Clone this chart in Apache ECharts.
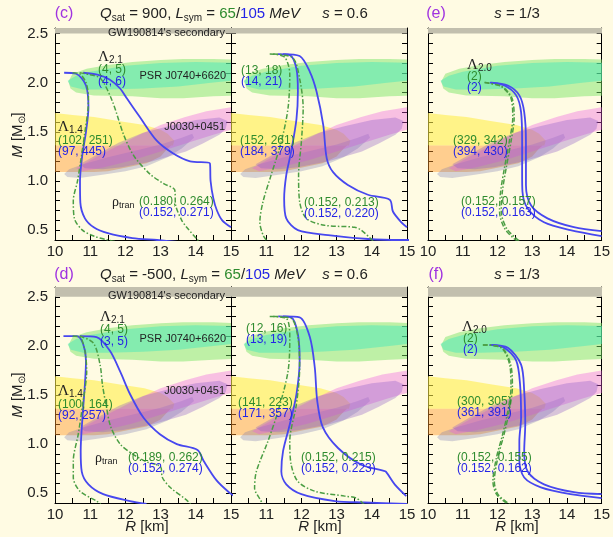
<!DOCTYPE html>
<html><head><meta charset="utf-8">
<script src="https://cdn.jsdelivr.net/npm/echarts@6/dist/echarts.min.js"></script>
<style>html,body{margin:0;padding:0;background:#fffbe3}#c{width:613px;height:537px}</style>
</head><body><div id="c"></div><script>
// ---------- tick labels ----------
const xTickLabels = [10, 11, 12, 13, 14, 15];
const yTickLabels = [0.5, 1.0, 1.5, 2.0, 2.5];

// ---------- observational regions (R [km], M [Msun]) ----------
const gwBand = [[9.8,2.5],[15.3,2.5],[15.3,2.8],[9.8,2.8]];
const yellowRegion = [[9.8,1.70],[10.0,1.69],[10.5,1.67],[11.11,1.65],[11.8,1.61],[12.54,1.57],[13.0,1.52],[13.2,1.48],[13.39,1.41],[13.35,1.36],[9.8,1.36]];
const orangeRegion = [[9.8,1.36],[13.30,1.36],[13.2,1.33],[13.0,1.25],[12.6,1.18],[12.06,1.14],[11.5,1.10],[11.11,1.09],[9.8,1.09]];
const greyRegion = [[10.26,1.07],[10.4,1.12],[10.8,1.17],[11.5,1.24],[12.3,1.31],[13.0,1.37],[13.6,1.44],[13.9,1.48],[13.95,1.44],[13.6,1.33],[13.2,1.24],[12.6,1.15],[12.0,1.10],[11.3,1.06],[10.7,1.03],[10.35,1.04]];
const pinkRegion = [[10.6,1.13],[11.2,1.25],[11.8,1.36],[12.4,1.47],[13.0,1.57],[13.7,1.65],[14.3,1.71],[15.0,1.75],[15.3,1.77],[15.3,1.52],[15.0,1.52],[14.5,1.47],[13.8,1.39],[13.0,1.30],[12.2,1.21],[11.4,1.14],[10.8,1.10]];
const purpleRegion = [[10.7,1.17],[11.2,1.27],[11.82,1.39],[12.5,1.49],[13.25,1.56],[14.0,1.62],[14.67,1.645],[14.9,1.61],[14.85,1.53],[14.67,1.47],[14.2,1.38],[13.72,1.30],[12.77,1.20],[11.9,1.14],[11.35,1.12],[10.85,1.13]];
const psrOuter = [[10.38,2.01],[10.5,2.09],[10.9,2.14],[11.5,2.18],[12.2,2.21],[13.0,2.23],[13.64,2.24],[14.5,2.24],[15.3,2.23],[15.3,1.87],[14.5,1.86],[13.64,1.84],[13.0,1.84],[12.2,1.86],[11.1,1.87],[10.6,1.90],[10.44,1.94]];
const psrInner = [[10.36,2.02],[10.6,2.07],[11.0,2.11],[12.0,2.17],[13.0,2.20],[14.0,2.21],[15.3,2.20],[15.3,2.03],[14.5,2.0],[13.5,1.96],[12.5,1.94],[11.5,1.93],[10.8,1.93],[10.45,1.96]];

// ---------- M-R curves: panel (c) ----------
const cBlueA = [[10.26,2.10],[10.6,2.09],[10.88,1.97],[10.95,1.75],[10.88,1.5],[10.77,1.25],[10.71,1.0],[10.72,0.78],[10.85,0.62],[11.1,0.53],[11.5,0.47],[12.2,0.42],[12.9,0.40],[13.5,0.38]];
const cBlueB = [[10.80,2.10],[11.2,2.08],[11.56,2.03],[11.85,1.94],[12.04,1.84],[12.41,1.65],[12.89,1.41],[13.36,1.28],[13.84,1.20],[14.40,1.18],[14.42,1.0],[14.5,0.82],[14.6,0.70],[14.75,0.60],[15.0,0.53]];
const cGreenA = [[10.5,2.10],[10.7,2.09],[10.88,2.0],[10.95,1.85],[10.93,1.7],[10.85,1.5],[10.75,1.25],[10.64,1.0],[10.52,0.8],[10.55,0.62],[10.78,0.5],[11.1,0.44],[11.5,0.40],[11.8,0.38]];
const cGreenB = [[10.70,2.10],[11.0,2.08],[11.3,2.04],[11.63,1.81],[11.95,1.47],[12.25,1.25],[12.7,1.07],[13.1,0.97],[13.40,0.91],[13.43,0.75],[13.6,0.6],[13.74,0.53],[14.03,0.41],[14.1,0.38]];
// ---------- panel (c) middle, s = 0.6 ----------
const m1BlueA = [[11.33,2.29],[11.67,2.28],[11.86,2.14],[11.90,1.91],[11.86,1.63],[11.71,1.30],[11.57,1.06],[11.51,0.82],[11.57,0.62],[11.9,0.50],[12.76,0.45],[13.89,0.41],[14.84,0.40],[15.1,0.40]];
const m1BlueB = [[11.48,2.29],[11.95,2.27],[12.24,2.11],[12.43,1.91],[12.62,1.57],[12.72,1.23],[12.90,1.09],[13.32,0.96],[13.89,0.86],[14.51,0.81],[14.6,0.69],[14.84,0.58],[15.0,0.53]];
const m1GreenA = [[11.10,2.29],[11.52,2.26],[11.67,2.08],[11.62,1.74],[11.43,1.40],[11.14,1.06],[10.91,0.79],[10.82,0.58],[10.91,0.45],[11.0,0.40],[11.05,0.38]];
const m1GreenB = [[11.20,2.29],[11.76,2.25],[11.95,2.04],[12.05,1.74],[12.0,1.40],[11.92,1.06],[11.95,0.79],[12.14,0.62],[12.66,0.55],[13.51,0.53],[13.70,0.50],[13.98,0.41],[14.05,0.38]];
// ---------- panel (e), s = 1/3 ----------
const eBlueA = [[11.78,2.0],[12.20,1.97],[12.54,1.87],[12.68,1.70],[12.71,1.40],[12.71,1.06],[12.72,0.89],[12.87,0.72],[13.34,0.58],[14.10,0.50],[15.0,0.44]];
const eBlueB = [[11.82,2.0],[12.30,1.97],[12.63,1.87],[12.77,1.70],[12.82,1.40],[12.82,0.96],[12.97,0.75],[13.44,0.62],[14.20,0.53],[15.0,0.49]];
const eGreenA = [[11.63,2.0],[12.11,1.96],[12.39,1.84],[12.44,1.64],[12.34,1.40],[12.20,1.13],[12.09,0.89],[12.06,0.69],[12.20,0.52],[12.49,0.41],[12.63,0.38]];
const eGreenB = [[11.63,2.0],[12.13,1.96],[12.42,1.84],[12.48,1.64],[12.39,1.40],[12.25,1.13],[12.14,0.89],[12.11,0.69],[12.26,0.52],[12.56,0.41],[12.7,0.38]];
// ---------- panel (d) ----------
const dBlueA = [[10.24,2.10],[10.62,2.10],[10.80,2.02],[10.88,1.85],[10.85,1.61],[10.78,1.27],[10.73,0.93],[10.76,0.72],[10.95,0.59],[11.37,0.49],[12.13,0.42],[12.6,0.39]];
const dBlueB = [[10.71,2.10],[11.18,2.09],[11.56,1.95],[11.85,1.74],[12.13,1.51],[12.51,1.27],[12.98,1.10],[13.46,1.00],[14.05,0.94],[14.22,0.83],[14.59,0.63],[14.97,0.50],[15.1,0.47]];
const dGreenA = [[10.5,2.10],[10.71,2.09],[10.85,1.95],[10.90,1.74],[10.80,1.44],[10.66,1.10],[10.52,0.83],[10.52,0.66],[10.71,0.52],[11.18,0.42],[11.3,0.39]];
const dGreenB = [[10.70,2.10],[11.09,2.03],[11.28,1.81],[11.35,1.60],[11.45,1.40],[11.58,1.18],[11.85,1.0],[12.2,0.90],[12.6,0.82],[13.0,0.77],[13.05,0.66],[13.27,0.56],[13.74,0.43],[13.85,0.39]];
// ---------- panel (d) middle, s = 0.6 ----------
const m2BlueA = [[11.34,2.30],[11.71,2.29],[11.90,2.12],[11.95,1.85],[11.86,1.51],[11.67,1.20],[11.48,0.93],[11.43,0.72],[11.57,0.59],[12.0,0.49],[12.95,0.42],[13.8,0.405],[15.0,0.39]];
const m2BlueB = [[11.48,2.30],[11.95,2.29],[12.24,2.09],[12.38,1.78],[12.45,1.44],[12.61,1.17],[13.04,0.96],[13.70,0.79],[14.32,0.73],[14.40,0.72],[14.65,0.59],[14.98,0.47]];
const m2GreenA = [[11.10,2.30],[11.57,2.28],[11.67,2.09],[11.62,1.74],[11.34,1.34],[11.05,1.03],[10.72,0.72],[10.67,0.55],[10.82,0.44],[10.91,0.39]];
const m2GreenB = [[11.20,2.30],[11.71,2.28],[11.90,2.09],[11.95,1.78],[11.86,1.41],[11.67,1.03],[11.71,0.79],[11.90,0.62],[12.38,0.52],[13.23,0.47],[13.56,0.45],[13.80,0.38]];
// ---------- panel (f), s = 1/3 ----------
const fBlueA = [[11.77,2.01],[12.20,1.98],[12.54,1.85],[12.65,1.61],[12.68,1.27],[12.63,1.03],[12.63,0.83],[12.77,0.66],[13.25,0.56],[14.10,0.49],[15.0,0.45]];
const fBlueB = [[11.82,2.01],[12.30,1.98],[12.68,1.81],[12.77,1.54],[12.80,1.20],[12.77,0.93],[12.87,0.72],[13.34,0.59],[14.20,0.51],[15.0,0.49]];
const fGreenA = [[11.58,2.01],[12.11,1.98],[12.35,1.81],[12.39,1.58],[12.30,1.34],[12.15,1.10],[11.97,0.86],[11.87,0.62],[11.97,0.49],[12.25,0.40],[12.35,0.38]];
const fGreenB = [[11.58,2.01],[12.13,1.98],[12.38,1.81],[12.43,1.58],[12.34,1.34],[12.19,1.10],[12.01,0.86],[11.91,0.62],[12.01,0.49],[12.30,0.40],[12.4,0.38]];

// ---------- layout / style ----------
const FF = '"Liberation Sans", Arial, sans-serif';
const SERIF = '"Liberation Serif", "DejaVu Serif", serif';
const GT = '#2e8b2e', BT = '#2424e6', PU = '#a032e0';
const BLUE = '#4747ef', GREEN = '#4c9e44';

const panels = [
  {grid:{left:55, top:28, width:176, height:212}, ymax:2.555, curves:[cBlueA,cBlueB,cGreenA,cGreenB], hide10:false, ylab:true},
  {grid:{left:231, top:28, width:176, height:212}, ymax:2.555, curves:[m1BlueA,m1BlueB,m1GreenA,m1GreenB], hide10:true, ylab:false},
  {grid:{left:428, top:28, width:175, height:212}, ymax:2.555, curves:[eBlueA,eBlueB,eGreenA,eGreenB], hide10:false, ylab:false},
  {grid:{left:55, top:287, width:176, height:216}, ymax:2.6, curves:[dBlueA,dBlueB,dGreenA,dGreenB], hide10:false, ylab:true},
  {grid:{left:231, top:287, width:176, height:216}, ymax:2.6, curves:[m2BlueA,m2BlueB,m2GreenA,m2GreenB], hide10:true, ylab:false},
  {grid:{left:428, top:287, width:175, height:216}, ymax:2.6, curves:[fBlueA,fBlueB,fGreenA,fGreenB], hide10:false, ylab:false}
];

const regions = [
  {pts: gwBand, fill:'#c2bfae'},
  {pts: yellowRegion, fill:'rgba(255,238,70,0.58)'},
  {pts: orangeRegion, fill:'rgba(255,150,40,0.45)'},
  {pts: greyRegion, fill:'rgba(115,115,175,0.30)'},
  {pts: pinkRegion, fill:'rgba(235,90,225,0.36)'},
  {pts: purpleRegion, fill:'rgba(140,90,200,0.34)'},
  {pts: psrOuter, fill:'rgba(120,228,100,0.48)'},
  {pts: psrInner, fill:'rgba(70,232,185,0.48)'}
];

const axLine = {lineStyle:{color:'#000', width:1}};
const axTick = {inside:true, length:5, lineStyle:{color:'#000', width:1}};
const xAxis = [], yAxis = [], grid = [], series = [];

panels.forEach((p, i) => {
  grid.push(Object.assign({containLabel:false}, p.grid));
  xAxis.push({gridIndex:i, type:'value', min:10, max:15, interval:0.5, position:'bottom',
    axisLine:axLine, axisTick:axTick, splitLine:{show:false},
    axisLabel:{interval:0, hideOverlap:false, margin:4, fontSize:15, fontFamily:FF, color:'#222',
      formatter: v => (xTickLabels.includes(v) && !(p.hide10 && v === 10)) ? String(v) : ''}});
  xAxis.push({gridIndex:i, type:'value', min:10, max:15, interval:0.5, position:'top',
    axisLine:axLine, axisTick:axTick, splitLine:{show:false}, axisLabel:{show:false}});
  yAxis.push({gridIndex:i, type:'value', min:0.4, max:p.ymax, interval:0.1, position:'left',
    axisLine:axLine, axisTick:axTick, splitLine:{show:false},
    axisLabel:{show:p.ylab, interval:0, hideOverlap:false, margin:7, fontSize:15, fontFamily:FF, color:'#222',
      showMinLabel:true, showMaxLabel:false,
      formatter: v => yTickLabels.some(t => Math.abs(t - v) < 1e-6) ? v.toFixed(1) : ''}});
  yAxis.push({gridIndex:i, type:'value', min:0.4, max:p.ymax, interval:0.1, position:'right',
    axisLine:axLine, axisTick:axTick, splitLine:{show:false}, axisLabel:{show:false}});

  series.push({type:'custom', xAxisIndex:2*i, yAxisIndex:2*i, clip:true, silent:true, z:1,
    data: regions.map(r => [r.pts[0][0], r.pts[0][1]]),
    renderItem: (params, api) => {
      const r = regions[params.dataIndex];
      return {type:'polygon', shape:{points: r.pts.map(q => api.coord(q))}, style:{fill:r.fill}};
    }});
  p.curves.forEach((c, k) => {
    const isBlue = k < 2;
    series.push({type:'line', xAxisIndex:2*i, yAxisIndex:2*i, data:c, showSymbol:false, symbol:'none',
      smooth:0.3, clip:true, silent:true, z:3,
      lineStyle: isBlue ? {color:BLUE, width:1.8} : {color:GREEN, width:1.5, type:[5,2,1.5,2]}});
  });
});

// ---------- texts ----------
function rich(fs){
  return {
    n:{fontSize:fs, lineHeight:fs+3, fontFamily:FF, fill:'#222'},
    i:{fontSize:fs, lineHeight:fs+3, fontFamily:FF, fontStyle:'italic', fill:'#222'},
    s:{fontSize:Math.round(fs*0.68), lineHeight:8, verticalAlign:'bottom', fontFamily:FF, fill:'#222'},
    g:{fontSize:fs, lineHeight:fs+3, fontFamily:FF, fill:GT},
    b:{fontSize:fs, lineHeight:fs+3, fontFamily:FF, fill:BT},
    L:{fontSize:fs+1, lineHeight:fs+3, fontFamily:SERIF, fill:'#222'}
  };
}
function T(x, y, text, fs, align, extra){
  return Object.assign({type:'text', x:x, y:y, z:100, silent:true,
    style:{text:text, rich:rich(fs), fontSize:fs, fontFamily:FF, fill:'#222',
      textAlign:align||'left', align:align||'left', textVerticalAlign:'middle', verticalAlign:'middle'}}, extra||{});
}
function C(x, y, text, color, fs, align){
  return {type:'text', x:x, y:y, z:100, silent:true,
    style:{text:text, fontSize:fs||12, fontFamily:FF, fill:color,
      textAlign:align||'left', align:align||'left', textVerticalAlign:'middle', verticalAlign:'middle'}};
}

const rows = [
  {dy:0, tag1:'(c)', tag2:'(e)', q:'900',
    L21:['(4, 5)','(4, 6)'], L14:['(102, 251)','(97, 445)'], rho:['(0.180, 0.264)','(0.152, 0.271)'],
    mL:['(13, 18)','(14, 21)'], mL14:['(152, 261)','(184, 379)'], mRho:['(0.152, 0.213)','(0.152, 0.220)'],
    rL14:['(329, 342)','(394, 430)'], rRho:['(0.152, 0.157)','(0.152, 0.163)']},
  {dy:261, tag1:'(d)', tag2:'(f)', q:'-500',
    L21:['(4, 5)','(3, 5)'], L14:['(100, 164)','(92, 257)'], rho:['(0.189, 0.262)','(0.152, 0.274)'],
    mL:['(12, 16)','(13, 19)'], mL14:['(141, 223)','(171, 357)'], mRho:['(0.152, 0.215)','(0.152, 0.223)'],
    rL14:['(300, 305)','(361, 391)'], rRho:['(0.152, 0.155)','(0.152, 0.162)']}
];

const graphic = [];
rows.forEach((r, ri) => {
  const d = r.dy;
  const top = ri === 0;
  graphic.push(C(64, 14 + d, r.tag1, PU, 16, 'center'));
  graphic.push(T(100, 14 + d, '{i|Q}{s|sat}{n| = ' + r.q + ', }{i|L}{s|sym}{n| = }{g|65}{n|/}{b|105}{n| }{i|MeV}', 15));
  graphic.push(T(345, 14 + d, '{i|s}{n| = 0.6}', 15, 'center'));
  graphic.push(C(436, 14 + d, r.tag2, PU, 16, 'center'));
  graphic.push(T(517, 14 + d, '{i|s}{n| = 1/3}', 15, 'center'));
  graphic.push(C(225, (top ? 33 : 296), "GW190814's secondary", '#222', 11, 'right'));
  // left panel
  const yL21 = top ? 57 : 317;
  graphic.push(T(top ? 98 : 100, yL21, '{L|Λ}{s|2.1}', 14));
  graphic.push(C(top ? 98 : 100, yL21 + 13, r.L21[0], GT, 12));
  graphic.push(C(top ? 98 : 100, yL21 + 25, r.L21[1], BT, 12));
  graphic.push(C(226, top ? 76 : 339, 'PSR J0740+6620', '#222', 11, 'right'));
  graphic.push(C(225, top ? 127 : 391, 'J0030+0451', '#222', 11, 'right'));
  const y14 = top ? 127 : 391;
  graphic.push(T(58, y14, '{L|Λ}{s|1.4}', 14));
  graphic.push(C(58, y14 + 14, r.L14[0], GT, 12));
  graphic.push(C(58, y14 + 25, r.L14[1], BT, 12));
  const yR = top ? 202 : 458;
  const xRho = top ? 112 : 95;
  const xRv = top ? 139 : 128;
  graphic.push(T(xRho, yR, '{L|ρ}{s|tran}', 13));
  graphic.push(C(xRv, yR, r.rho[0], GT, 12));
  graphic.push(C(xRv, yR + 11, r.rho[1], BT, 12));
  // middle panel
  graphic.push(C(top ? 241 : 246, top ? 71 : 329, r.mL[0], GT, 12));
  graphic.push(C(top ? 241 : 246, top ? 82 : 340, r.mL[1], BT, 12));
  graphic.push(C(top ? 240 : 238, top ? 141 : 403, r.mL14[0], GT, 12));
  graphic.push(C(top ? 240 : 238, top ? 152 : 414, r.mL14[1], BT, 12));
  graphic.push(C(top ? 304 : 301, yR + (top ? 1 : 0), r.mRho[0], GT, 12));
  graphic.push(C(top ? 304 : 301, yR + (top ? 12 : 11), r.mRho[1], BT, 12));
  // right panel
  graphic.push(T(top ? 467 : 462, top ? 65 : 327, '{L|Λ}{s|2.0}', 14));
  graphic.push(C(top ? 467 : 463, top ? 77 : 339, '(2)', GT, 12));
  graphic.push(C(top ? 467 : 463, top ? 88 : 350, '(2)', BT, 12));
  graphic.push(C(top ? 453 : 457, top ? 141 : 402, r.rL14[0], GT, 12));
  graphic.push(C(top ? 453 : 457, top ? 152 : 413, r.rL14[1], BT, 12));
  graphic.push(C(top ? 461 : 457, yR, r.rRho[0], GT, 12));
  graphic.push(C(top ? 461 : 457, yR + 11, r.rRho[1], BT, 12));
  // y axis title
  graphic.push(T(18, top ? 135 : 395, '{i|M}{n| [M}{s|⊙}{n|]}', 15, 'center', {rotation: Math.PI / 2}));
});
[147, 320, 517].forEach(x => graphic.push(T(x, 527, '{i|R}{n| [km]}', 15, 'center')));

const chart = echarts.init(document.getElementById('c'), null, {renderer:'canvas'});
chart.setOption({
  backgroundColor:'#fffbe3',
  animation:false,
  grid, xAxis, yAxis, series, graphic
});
</script></body></html>
